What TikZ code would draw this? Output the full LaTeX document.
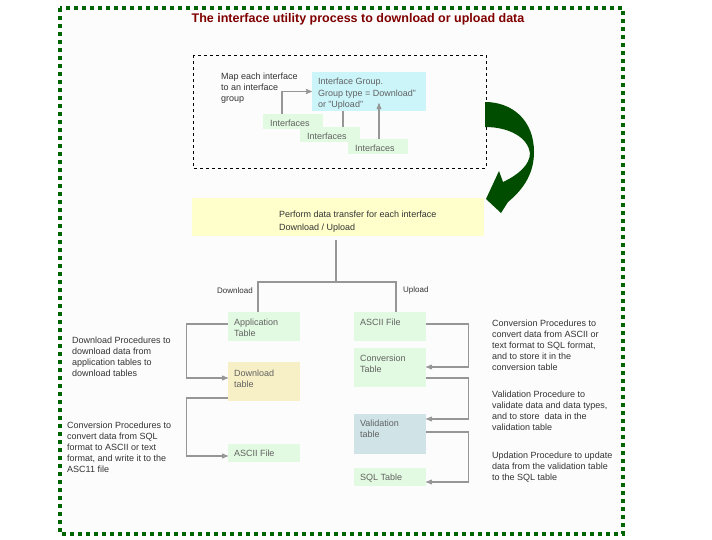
\documentclass[tikz,border=0pt]{standalone}
\usepackage{fontspec}
\setmainfont{Liberation Sans}
\usetikzlibrary{arrows,positioning}

\definecolor{frame}{RGB}{0,100,0}
\definecolor{bigarrow}{RGB}{0,77,0}
\definecolor{titlered}{RGB}{128,0,0}
\definecolor{cyanfill}{RGB}{204,245,250}
\definecolor{greenfill}{RGB}{226,250,226}
\definecolor{yellowfill}{RGB}{255,255,204}
\definecolor{khakifill}{RGB}{247,240,198}
\definecolor{bluefill}{RGB}{208,228,232}
\definecolor{linegray}{RGB}{150,150,150}

\begin{document}
\begin{tikzpicture}[x=1pt,y=-1pt,>=stealth',
  txt/.style={font=\fontsize{9}{11}\selectfont,text=black!80,align=left,inner sep=0pt,anchor=north west},
  lbl/.style={font=\fontsize{9}{11}\selectfont,text=black!62,align=left,anchor=north west,inner xsep=6pt,inner ysep=6pt},
  tbl/.style={minimum width=72pt,inner sep=0pt},
  ifbox/.style={fill=greenfill,minimum width=60pt,minimum height=15pt,inner sep=0pt},
  conn/.style={draw=linegray,line width=1.1pt},
  tree/.style={draw=linegray,line width=1.6pt}]
\useasboundingbox (0,0) rectangle (712,540);
\fill[white] (0,0) rectangle (712,540);
\draw[frame,fill=black!1,line width=4pt,dash pattern=on 4pt off 4pt] (60,8) rectangle (623,534);
\node[font=\bfseries\fontsize{12.5}{14}\selectfont,text=titlered] (title) at (358,19.5) {The interface utility process to download or upload data};

% grouping of the interfaces
\draw[dashed,line width=0.8pt] (193,55) rectangle (486,168);
\node[txt] (map) at (221,73) {Map each interface\\to an interface\\group};
\node[fill=cyanfill,minimum width=114pt,minimum height=39pt,inner sep=0pt,
  label={[lbl,font=\fontsize{9}{11.5}\selectfont,inner ysep=6pt]north west:Interface Group.\\Group type = Download"\\or "Upload"}] (grp) at (369,91.5) {};
\node[ifbox,label={[lbl,inner xsep=7pt,inner ysep=5.5pt]north west:Interfaces}] (if1) at (293,121.5) {};
\node[ifbox,label={[lbl,inner xsep=7pt,inner ysep=5.5pt]north west:Interfaces}] (if2) at (330,135) {};
\node[ifbox,label={[lbl,inner xsep=7pt,inner ysep=5.5pt]north west:Interfaces}] (if3) at (378,147) {};
\draw[conn,->] ([xshift=-11pt]if1.north) |- (grp.west);
\draw[conn] ([xshift=13pt]if2.north) -- ([xshift=13pt]if2.north |- grp.south);
\draw[conn,->] ([xshift=1pt]if3.north) -- ++(0,-36);

% curved block arrow
\fill[bigarrow] (485,102) .. controls (512,102) and (534,120) .. (534,152)
  .. controls (534,172) and (525,188) .. (508,202) -- (501,213) -- (486,199)
  -- (499,171) -- (503,182) .. controls (518,175) and (530,165) .. (530,153)
  .. controls (528,138) and (510,127) .. (485,127) -- cycle;

% transfer
\node[fill=yellowfill,minimum width=292pt,minimum height=38pt,inner sep=0pt] (xfer) at (338,217) {};
\node[txt,font=\fontsize{9}{13}\selectfont] (xferlbl) at (279,210.5) {Perform data transfer for each interface\\Download / Upload};
\node[txt,anchor=west,font=\fontsize{8}{10}\selectfont] (dl) at (217,290.5) {Download};
\node[txt,anchor=west,font=\fontsize{8}{10}\selectfont] (ul) at (403,290.5) {Upload};

% download side
\node[tbl,fill=greenfill,minimum height=29pt,label={[lbl,inner ysep=6.5pt]north west:Application\\Table}] (app) at (264,326.5) {};
\node[tbl,fill=khakifill,minimum height=39pt,label={[lbl,inner ysep=7.5pt]north west:Download\\table}] (dltab) at (264,381.5) {};
\node[tbl,fill=greenfill,minimum height=18pt,label={[lbl,inner ysep=6pt]north west:ASCII File}] (ascL) at (264,453) {};
\draw[conn,->] ([yshift=2.5pt]app.west) -- ++(-41,0) |- ([yshift=3.5pt]dltab.west);
\draw[conn,->] ([yshift=-16.5pt]dltab.west) -- ++(-41,0) |- ([yshift=-3pt]ascL.west);
\node[txt] (dltxt) at (72,336.5) {Download Procedures to\\download data from\\application tables to\\download tables};
\node[txt] (cvLtxt) at (67,421.5) {Conversion Procedures to\\convert data from SQL\\format to ASCII or text\\format, and write it to the\\ASC11 file};

% upload side
\node[tbl,fill=greenfill,minimum height=29pt,label={[lbl,inner ysep=6.5pt]north west:ASCII File}] (ascR) at (390,326.5) {};
\node[tbl,fill=greenfill,minimum height=39pt,label={[lbl,inner ysep=6.5pt]north west:Conversion\\Table}] (conv) at (390,367.5) {};
\node[tbl,fill=bluefill,minimum height=40pt,label={[lbl,inner ysep=5.5pt]north west:Validation\\table}] (val) at (390,434) {};
\node[tbl,fill=greenfill,minimum height=18pt,label={[lbl,inner ysep=6.5pt]north west:SQL Table}] (sql) at (390,476.5) {};
\draw[conn,->] ([yshift=2.5pt]ascR.east) -- ++(42,0) |- ([yshift=0.5pt]conv.east);
\draw[conn,->] ([yshift=-10.5pt]conv.east) -- ++(42,0) |- ([yshift=15pt]val.east);
\draw[conn,->] ([yshift=2pt]val.east) -- ++(42,0) |- ([yshift=-5.5pt]sql.east);
\node[txt] (cvRtxt) at (492,319.5) {Conversion Procedures to\\convert data from ASCII or\\text format to SQL format,\\and to store it in the\\conversion table};
\node[txt] (valtxt) at (492,390.5) {Validation Procedure to\\validate data and data types,\\and to store\ \ data in the\\validation table};
\node[txt] (updtxt) at (492,451.5) {Updation Procedure to update\\data from the validation table\\to the SQL table};

% fork from the transfer box
\draw[tree] ([xshift=-2pt,yshift=-4pt]xfer.south) -- ++(0,42) coordinate (fork);
\draw[tree] ([xshift=-6pt]app.north) |- (fork) -| ([xshift=6pt]ascR.north);
\end{tikzpicture}
\end{document}
